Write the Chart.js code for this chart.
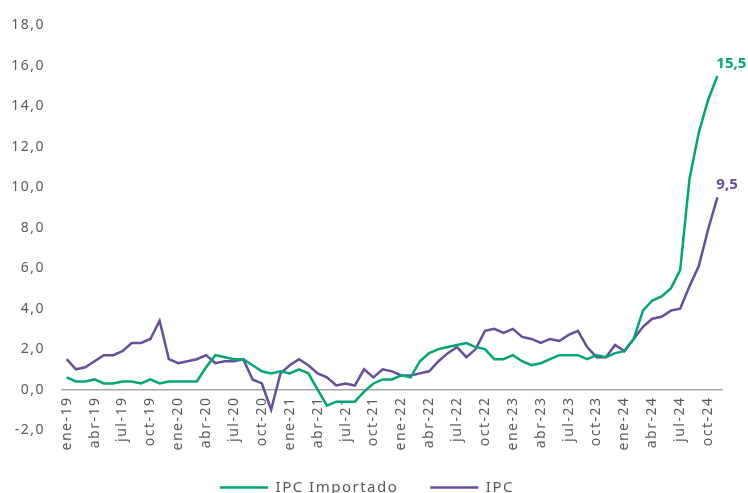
<!DOCTYPE html>
<html><head><meta charset="utf-8">
<script src="https://cdn.jsdelivr.net/npm/chart.js@4"></script>
<style>html,body{margin:0;padding:0;overflow:hidden;background:#fff;width:748px;height:493px}canvas{display:block}</style>
</head><body>
<canvas id="c" width="748" height="505"></canvas>
<script>
const months = ['ene','feb','mar','abr','may','jun','jul','ago','sep','oct','nov','dic'];
const years = ['19','20','21','22','23','24'];
const categories = [];
years.forEach(y => months.forEach(m => categories.push(m + '-' + y)));
categories.length = 71; // ene-19 .. nov-24

const ipcImportado = [
  0.6,0.4,0.4,0.5,0.3,0.3,0.4,0.4,0.3,0.5,0.3,0.4,
  0.4,0.4,0.4,1.1,1.7,1.6,1.5,1.5,1.2,0.9,0.8,0.9,
  0.8,1.0,0.8,0.0,-0.8,-0.6,-0.6,-0.6,-0.1,0.3,0.5,0.5,
  0.7,0.6,1.4,1.8,2.0,2.1,2.2,2.3,2.1,2.0,1.5,1.5,
  1.7,1.4,1.2,1.3,1.5,1.7,1.7,1.7,1.5,1.7,1.6,1.8,
  1.9,2.5,3.9,4.4,4.6,5.0,5.9,10.4,12.7,14.3,15.5
];
const ipc = [
  1.5,1.0,1.1,1.4,1.7,1.7,1.9,2.3,2.3,2.5,3.4,1.5,
  1.3,1.4,1.5,1.7,1.3,1.4,1.4,1.5,0.5,0.3,-1.0,0.8,
  1.2,1.5,1.2,0.8,0.6,0.2,0.3,0.2,1.0,0.6,1.0,0.9,
  0.7,0.7,0.8,0.9,1.4,1.8,2.1,1.6,2.0,2.9,3.0,2.8,
  3.0,2.6,2.5,2.3,2.5,2.4,2.7,2.9,2.1,1.6,1.6,2.2,
  1.9,2.5,3.1,3.5,3.6,3.9,4.0,5.1,6.1,7.9,9.5
];
const seriesNames = ['IPC Importado', 'IPC'];
const yMin = -2, yMax = 18, yStep = 2;

const GREEN = '#00a676';
const PURPLE = '#674e9b';
const GREY = '#595959';
const FONT = '"Noto Sans", sans-serif';
const fmt = v => Number(v).toFixed(1).replace('.', ',');

Chart.defaults.font.family = FONT;

const spacing = {
  id: 'spacing',
  beforeUpdate(c) { c.ctx.letterSpacing = '1.5px'; },
  beforeDraw(c) { c.ctx.letterSpacing = '1.5px'; }
};
const endLabels = {
  id: 'endLabels',
  afterDatasetsDraw(chart) {
    const ctx = chart.ctx;
    chart.data.datasets.forEach((ds, i) => {
      const meta = chart.getDatasetMeta(i);
      const pt = meta.data[meta.data.length - 1];
      const v = ds.data[ds.data.length - 1];
      ctx.save();
      ctx.letterSpacing = '0px';
      ctx.font = 'bold 15px ' + FONT;
      ctx.fillStyle = ds.borderColor;
      ctx.textAlign = 'left';
      ctx.textBaseline = 'alphabetic';
      ctx.fillText(fmt(v), pt.x - 1, pt.y - 8);
      ctx.restore();
    });
  }
};

new Chart(document.getElementById('c'), {
  type: 'line',
  data: {
    labels: categories,
    datasets: [
      {label: seriesNames[0], data: ipcImportado, borderColor: GREEN, backgroundColor: GREEN, borderWidth: 2.5, pointRadius: 0, tension: 0},
      {label: seriesNames[1], data: ipc, borderColor: PURPLE, backgroundColor: PURPLE, borderWidth: 2.5, pointRadius: 0, tension: 0}
    ]
  },
  options: {
    responsive: false,
    animation: false,
    devicePixelRatio: 1,
    layout: {padding: {top: 20, right: 26, left: 12, bottom: 0}},
    plugins: {
      legend: {
        position: 'bottom',
        labels: {boxWidth: 48, boxHeight: 0, padding: 32, color: GREY, font: {size: 15, family: FONT}},
        title: {display: true, text: '', padding: 0, font: {size: 18, lineHeight: 1}}
      },
      tooltip: {enabled: false}
    },
    scales: {
      x: {
        type: 'category',
        offset: true,
        position: {y: 0},
        grid: {display: false, drawTicks: false},
        border: {display: true, color: '#a6a6a6', width: 1.5},
        ticks: {
          autoSkip: false, minRotation: 90, maxRotation: 90, padding: 7,
          color: GREY, font: {size: 14, family: FONT},
          callback: function(v, i) { return i % 3 === 0 ? this.getLabelForValue(v) : ''; }
        }
      },
      y: {
        min: yMin, max: yMax,
        afterFit: s => { s.width = 50; },
        grid: {display: false, drawTicks: false},
        border: {display: false},
        ticks: {stepSize: yStep, padding: 17, color: GREY, font: {size: 14, family: FONT}, callback: v => fmt(v)}
      }
    }
  },
  plugins: [spacing, endLabels]
});
</script>
</body></html>
